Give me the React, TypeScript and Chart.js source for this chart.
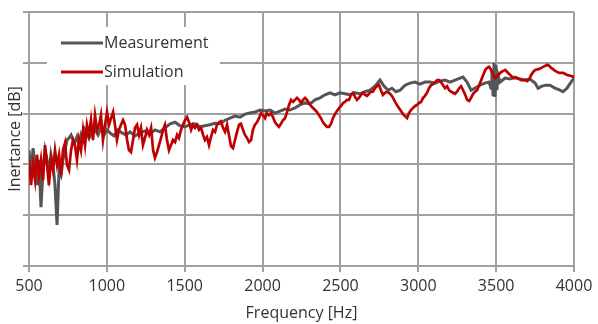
import React, { useEffect, useRef } from "react";
import { Chart, registerables } from "chart.js";

Chart.register(...registerables);

// ---- Data ----
const measFreq = [
  500, 513, 526, 539, 551, 564, 577, 590, 603, 616, 628, 641, 654, 667, 680, 693, 706, 718, 731, 744,
  757, 770, 783, 795, 808, 821, 834, 847, 860, 885, 904, 924, 943, 962, 982, 1001, 1020, 1046, 1072, 1097,
  1123, 1149, 1181, 1213, 1245, 1277, 1309, 1341, 1373, 1406, 1438, 1470, 1502, 1534, 1566, 1598, 1630, 1662, 1694, 1727,
  1759, 1791, 1823, 1855, 1887, 1919, 1951, 1983, 2016, 2048, 2080, 2112, 2144, 2176, 2208, 2240, 2272, 2305, 2337, 2369,
  2401, 2433, 2465, 2497, 2529, 2561, 2594, 2626, 2658, 2690, 2722, 2754, 2780, 2806, 2831, 2857, 2883, 2915, 2947, 2979,
  3011, 3043, 3075, 3107, 3139, 3172, 3204, 3236, 3268, 3287, 3313, 3339, 3364, 3396, 3428, 3454, 3467, 3473, 3480, 3486,
  3492, 3499, 3505, 3512, 3525, 3557, 3589, 3621, 3653, 3685, 3717, 3750, 3769, 3795, 3820, 3846, 3878, 3910, 3929, 3955,
  3981, 4000,
];
const measDb = [
  22.8, 17.9, 23.2, 19.9, 15.9, 20.9, 11.6, 18.9, 22.8, 20.9, 17.9, 21.9, 19.9, 15.9, 8.1, 18.9, 17.9, 20.9, 22.8, 24.8,
  25.2, 25.8, 24.8, 24.4, 25.4, 23.8, 25.8, 24.8, 26.8, 25.2, 26.2, 26.8, 25.8, 27.2, 25.8, 26.8, 26.2, 25.6, 26.8, 26.2,
  25.8, 26.4, 25.6, 26.2, 26.6, 26.0, 26.8, 26.4, 27.2, 28.0, 28.3, 27.6, 27.4, 27.8, 28.0, 27.4, 27.6, 27.8, 28.1, 28.0,
  28.7, 29.1, 29.5, 29.3, 29.9, 30.1, 30.3, 30.7, 30.5, 30.7, 30.1, 30.5, 30.9, 30.7, 31.1, 31.7, 32.1, 31.9, 32.7, 33.1,
  33.7, 34.1, 33.7, 34.1, 33.9, 33.7, 34.1, 33.9, 34.3, 34.6, 35.4, 36.6, 35.4, 34.6, 35.0, 34.3, 34.6, 35.6, 36.0, 36.2,
  35.8, 36.2, 36.2, 36.0, 36.4, 36.6, 36.2, 36.6, 37.0, 37.2, 36.2, 34.6, 35.0, 35.6, 36.0, 36.2, 35.0, 38.6, 33.7, 40.0,
  33.3, 39.6, 34.6, 37.6, 36.2, 37.0, 36.8, 37.2, 36.8, 36.6, 36.8, 36.0, 35.0, 35.4, 35.6, 35.6, 35.0, 34.6, 34.3, 35.0,
  36.2, 37.0,
];

const simFreq = [
  500, 513, 526, 539, 551, 564, 577, 590, 603, 616, 628, 641, 654, 667, 680, 693, 706, 718, 731, 744,
  757, 770, 783, 795, 808, 821, 834, 847, 860, 872, 885, 898, 911, 924, 937, 950, 962, 975, 988, 1001,
  1014, 1027, 1040, 1052, 1065, 1078, 1091, 1104, 1117, 1130, 1142, 1155, 1168, 1181, 1194, 1207, 1219, 1232, 1245, 1258,
  1271, 1284, 1297, 1309, 1322, 1335, 1348, 1361, 1373, 1386, 1399, 1412, 1425, 1438, 1451, 1463, 1476, 1489, 1502, 1515,
  1528, 1541, 1553, 1566, 1579, 1592, 1605, 1618, 1630, 1643, 1656, 1669, 1682, 1695, 1707, 1720, 1733, 1746, 1759, 1772,
  1784, 1797, 1810, 1823, 1836, 1849, 1861, 1874, 1887, 1900, 1913, 1926, 1938, 1951, 1964, 1977, 1990, 2003, 2016, 2028,
  2041, 2054, 2067, 2080, 2093, 2105, 2118, 2131, 2144, 2157, 2170, 2183, 2196, 2208, 2221, 2234, 2247, 2260, 2273, 2285,
  2298, 2311, 2324, 2337, 2350, 2362, 2375, 2388, 2401, 2414, 2427, 2440, 2452, 2465, 2478, 2491, 2504, 2517, 2529, 2542,
  2555, 2568, 2581, 2594, 2606, 2619, 2632, 2645, 2658, 2671, 2683, 2696, 2709, 2722, 2735, 2748, 2760, 2773, 2786, 2799,
  2812, 2825, 2838, 2851, 2863, 2876, 2889, 2902, 2915, 2928, 2940, 2953, 2966, 2979, 2992, 3005, 3018, 3031, 3043, 3056,
  3069, 3082, 3095, 3108, 3121, 3134, 3146, 3159, 3172, 3185, 3198, 3211, 3224, 3236, 3249, 3262, 3275, 3288, 3301, 3314,
  3327, 3339, 3352, 3365, 3378, 3391, 3404, 3417, 3430, 3442, 3455, 3468, 3481, 3494, 3507, 3520, 3533, 3546, 3558, 3571,
  3584, 3597, 3610, 3636, 3661, 3687, 3700, 3713, 3725, 3738, 3751, 3777, 3802, 3828, 3841, 3854, 3879, 3905, 3931, 3956,
  3982, 4000,
];
const simDb = [
  20.9, 15.9, 19.9, 16.9, 21.9, 17.9, 20.9, 16.9, 23.8, 19.9, 15.9, 20.9, 18.9, 22.8, 19.9, 21.9, 17.9, 22.8, 24.2, 19.9,
  18.9, 22.8, 24.8, 23.8, 20.9, 24.8, 22.8, 26.8, 23.8, 27.8, 25.8, 28.7, 24.8, 29.7, 26.8, 27.8, 29.7, 24.8, 27.8, 30.3,
  27.8, 29.1, 30.3, 27.8, 24.8, 26.8, 27.8, 28.7, 27.8, 24.8, 22.8, 22.4, 24.8, 27.2, 27.8, 25.8, 27.2, 23.8, 25.2, 26.8,
  25.8, 27.2, 22.8, 21.3, 22.4, 23.8, 25.2, 26.8, 27.8, 24.8, 22.8, 23.8, 24.8, 24.4, 25.8, 25.2, 26.8, 27.8, 28.7, 29.3,
  28.3, 26.8, 27.8, 27.2, 27.8, 26.8, 27.2, 25.8, 24.8, 25.4, 23.8, 25.4, 26.8, 26.4, 27.8, 28.3, 28.5, 27.2, 26.4, 27.8,
  25.8, 23.6, 23.2, 24.8, 26.4, 27.8, 28.0, 26.8, 25.8, 25.2, 24.4, 24.8, 26.8, 27.8, 28.3, 29.1, 30.1, 29.7, 29.1, 30.1,
  29.7, 30.1, 29.3, 28.3, 27.8, 27.4, 28.0, 28.7, 29.1, 30.3, 31.7, 32.7, 32.3, 32.7, 33.1, 32.7, 32.1, 32.7, 33.1, 32.7,
  32.1, 31.5, 31.1, 30.7, 30.3, 29.7, 29.1, 28.3, 27.8, 27.4, 27.4, 28.0, 29.1, 29.9, 30.5, 31.1, 31.5, 32.1, 32.3, 32.7,
  32.7, 33.7, 34.1, 33.3, 32.7, 33.1, 33.7, 34.1, 33.7, 33.5, 33.9, 34.3, 34.3, 35.0, 35.4, 35.6, 34.6, 33.7, 34.1, 34.3,
  34.1, 33.7, 33.1, 32.3, 31.7, 31.1, 30.5, 29.9, 29.5, 29.1, 30.1, 30.7, 31.1, 31.5, 31.7, 32.1, 32.3, 33.1, 33.5, 34.1,
  35.0, 35.6, 35.8, 36.2, 36.6, 36.6, 36.2, 35.6, 35.0, 35.4, 34.6, 34.3, 34.1, 33.9, 34.3, 35.0, 35.4, 34.6, 33.7, 32.7,
  32.5, 33.1, 33.9, 34.3, 34.6, 35.6, 36.6, 37.6, 38.6, 39.0, 39.2, 38.6, 37.6, 37.0, 37.4, 37.8, 38.2, 38.4, 38.6, 38.2,
  37.8, 37.4, 37.0, 37.0, 36.6, 36.6, 36.4, 36.8, 37.6, 38.2, 38.6, 38.8, 39.2, 39.6, 39.4, 39.0, 38.4, 38.0, 38.0, 37.6,
  37.4, 37.2,
];

const xTickValues = [500, 1000, 1500, 2000, 2500, 3000, 3500, 4000];
const seriesLabels = ["Measurement", "Simulation"];
const seriesColors = ["#555555", "#c00000"];

const FONT = "'Open Sans', 'Noto Sans', sans-serif";
const TEXT = "#333333";
const GRID = "#a0a0a0";

const insideLegend = {
  id: "insideLegend",
  beforeDatasetsDraw(chart: any) {
    const { ctx, chartArea } = chart;
    const l = chartArea.left;
    const t = chartArea.top;
    ctx.save();
    ctx.fillStyle = "#ffffff";
    ctx.fillRect(l + 18, t + 15, 173, 58);
    seriesLabels.forEach((label, i) => {
      const y = t + 31 + i * 29;
      ctx.strokeStyle = seriesColors[i];
      ctx.lineWidth = 3;
      ctx.beginPath();
      ctx.moveTo(l + 32, y);
      ctx.lineTo(l + 74, y);
      ctx.stroke();
      ctx.fillStyle = TEXT;
      ctx.font = `16px ${FONT}`;
      ctx.textBaseline = "middle";
      ctx.textAlign = "left";
      ctx.fillText(label, l + 75, y);
    });
    ctx.restore();
  },
};

export default function App() {
  const ref = useRef<HTMLCanvasElement>(null);

  useEffect(() => {
    if (!ref.current) return;
    const meas = measFreq.map((f, i) => ({ x: f, y: measDb[i] }));
    const sim = simFreq.map((f, i) => ({ x: f, y: simDb[i] }));
    const chart = new Chart(ref.current, {
      type: "line",
      data: {
        datasets: [
          {
            label: seriesLabels[0],
            data: meas,
            borderColor: seriesColors[0],
            borderWidth: 3,
            pointRadius: 0,
            tension: 0,
            order: 1,
          },
          {
            label: seriesLabels[1],
            data: sim,
            borderColor: seriesColors[1],
            borderWidth: 2.7,
            pointRadius: 0,
            tension: 0,
            order: 0,
          },
        ],
      },
      plugins: [insideLegend],
      options: {
        animation: false,
        responsive: false,
        devicePixelRatio: 1,
        layout: { padding: { top: 12, right: 24, left: 0, bottom: 0 } },
        plugins: {
          legend: { display: false },
          tooltip: { enabled: false },
        },
        scales: {
          x: {
            type: "linear",
            min: 500,
            max: 4000,
            afterBuildTicks: (scale: any) => {
              scale.ticks = xTickValues.map((v) => ({ value: v }));
            },
            afterFit: (scale: any) => {
              scale.height = 58;
            },
            ticks: {
              color: TEXT,
              font: { family: FONT, size: 16 },
              padding: 5,
              maxRotation: 0,
              callback: (v: any) => String(v),
            },
            grid: { color: GRID, lineWidth: 2, tickLength: 6 },
            border: { color: GRID, width: 2 },
            title: {
              display: true,
              text: "Frequency [Hz]",
              color: TEXT,
              font: { family: FONT, size: 16 },
              padding: { top: 0, bottom: 1 },
            },
          },
          y: {
            type: "linear",
            min: 0,
            max: 50,
            ticks: { display: false, stepSize: 10 },
            afterFit: (scale: any) => {
              scale.width = 29;
            },
            grid: { color: GRID, lineWidth: 2, tickLength: 6 },
            border: { color: GRID, width: 2 },
            title: {
              display: true,
              text: "Inertance [dB]",
              color: TEXT,
              font: { family: FONT, size: 16 },
              padding: { top: 6, bottom: 0 },
            },
          },
        },
      },
    });
    return () => chart.destroy();
  }, []);

  return (
    <div style={{ position: "absolute", left: 0, top: 0, width: 598, height: 324, background: "#fff" }}>
      <canvas ref={ref} width={598} height={324} style={{ display: "block" }} />
    </div>
  );
}
